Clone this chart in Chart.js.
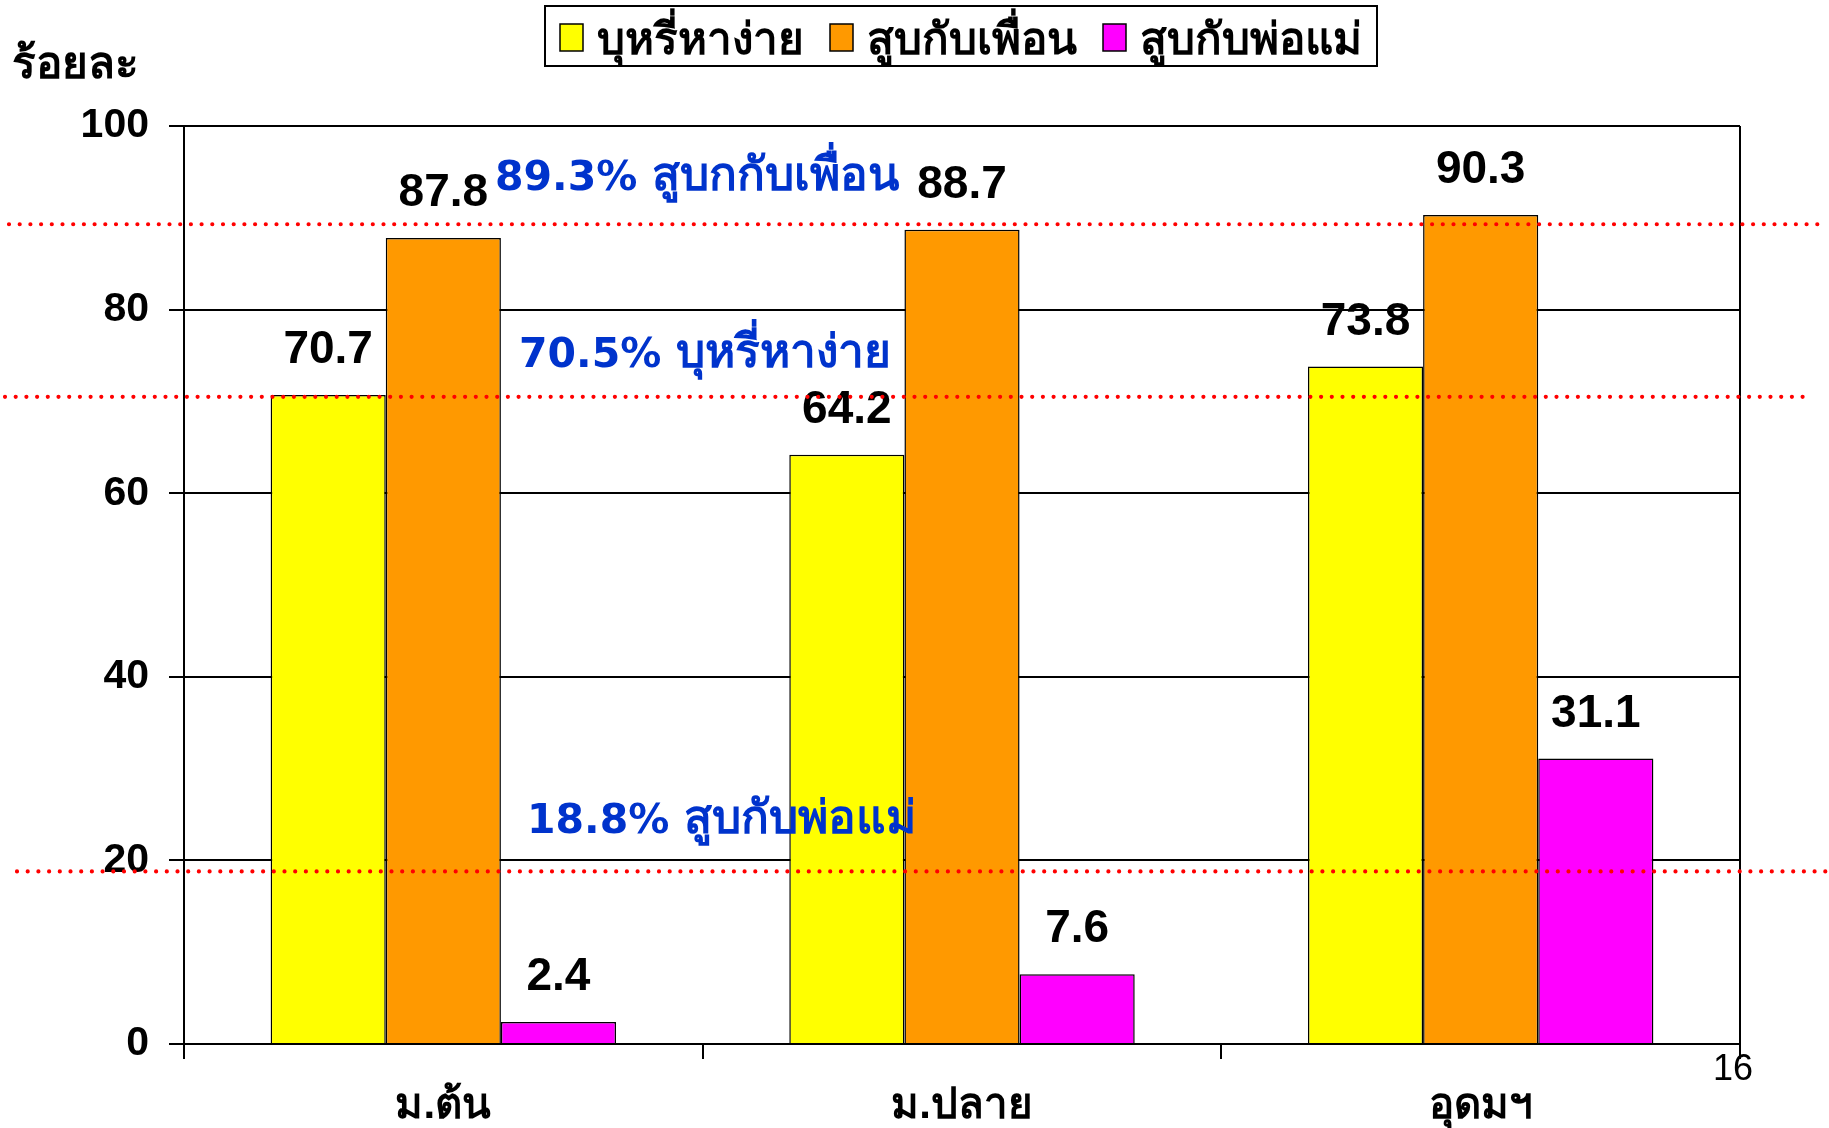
<!DOCTYPE html>
<html>
<head>
<meta charset="utf-8">
<script src="https://cdn.jsdelivr.net/npm/chart.js@4.4.1/dist/chart.umd.min.js"></script>
<style>
  html, body { margin: 0; padding: 0; background: #fff; }
  #wrap { width: 1829px; height: 1128px; position: relative; }
</style>
</head>
<body>
<div id="wrap"><canvas id="c" width="1829" height="1128"></canvas></div>
<script>
// ---- data ----
const categories = ['ม.ต้น', 'ม.ปลาย', 'อุดมฯ'];
const seriesNames = ['บุหรี่หาง่าย', 'สูบกับเพื่อน', 'สูบกับพ่อแม่'];
const smokeEasy = [70.7, 64.2, 73.8];
const withFriends = [87.8, 88.7, 90.3];
const withParents = [2.4, 7.6, 31.1];
const yTicks = [0, 20, 40, 60, 80, 100];
const refValues = [89.3, 70.5, 18.8];
const refNames = ['สูบกกับเพื่อน', 'บุหรี่หาง่าย', 'สูบกับพ่อแม่'];
const yAxisTitle = 'ร้อยละ';
const pageNumber = '16';

const colors = ['#FFFF00', '#FF9900', '#FF00FF'];
const FONT = '"Liberation Sans", Arial, sans-serif';
const BLUEFONT = '"DejaVu Sans", Verdana, sans-serif';

// layout targets
const PLOT_LEFT = 184, PLOT_RIGHT = 1740, PLOT_TOP = 126, PLOT_BOTTOM = 1044;
const W = 1829, H = 1128;

const refLayout = [
  {x: 495, dy: 34, x0: 9, x1: 1822},
  {x: 519, dy: 30, x0: 5, x1: 1810},
  {x: 527, dy: 38, x0: 17, x1: 1826}
];

const extras = {
  id: 'extras',
  afterDatasetsDraw(chart) {
    const ctx = chart.ctx;
    ctx.save();
    ctx.fillStyle = '#000';
    ctx.font = 'bold 46px ' + FONT;
    ctx.textAlign = 'center';
    ctx.textBaseline = 'alphabetic';
    chart.data.datasets.forEach((ds, i) => {
      const meta = chart.getDatasetMeta(i);
      meta.data.forEach((bar, j) => {
        ctx.fillText(ds.data[j].toFixed(1), bar.x, bar.y - 32);
      });
    });
    ctx.restore();
  },
  afterDraw(chart) {
    const ctx = chart.ctx;
    const ys = chart.scales.y;
    const area = chart.chartArea;
    ctx.save();
    // right border
    ctx.strokeStyle = '#000';
    ctx.lineWidth = 2;
    ctx.beginPath();
    ctx.moveTo(area.right, area.top);
    ctx.lineTo(area.right, area.bottom + 15);
    ctx.stroke();

    // reference dotted lines + blue text
    refValues.forEach((v, i) => {
      const y = ys.getPixelForValue(v);
      const L = refLayout[i];
      ctx.strokeStyle = '#FF0000';
      ctx.lineWidth = 4.2;
      ctx.lineCap = 'round';
      ctx.setLineDash([0, 10.7]);
      ctx.beginPath();
      ctx.moveTo(L.x0, y);
      ctx.lineTo(L.x1, y);
      ctx.stroke();
      ctx.setLineDash([]);
      ctx.fillStyle = '#0033CC';
      ctx.textAlign = 'left';
      ctx.textBaseline = 'alphabetic';
      ctx.font = 'bold 41px ' + BLUEFONT;
      const numTxt = v.toFixed(1) + '% ';
      ctx.fillText(numTxt, L.x, y - L.dy);
      const nw = ctx.measureText(numTxt).width;
      ctx.font = 'bold 46px ' + BLUEFONT;
      ctx.fillText(refNames[i], L.x + nw, y - L.dy);
    });

    // y axis title
    ctx.fillStyle = '#000';
    ctx.font = 'bold 44px ' + FONT;
    ctx.textAlign = 'left';
    ctx.textBaseline = 'alphabetic';
    ctx.fillText(yAxisTitle, 12, 78);

    // page number
    ctx.font = '36px ' + FONT;
    ctx.textAlign = 'center';
    ctx.fillText(pageNumber, 1733, 1080);

    // legend
    ctx.font = 'bold 44px ' + FONT;
    const sw = 23, sh = 27, gapST = 14, gapItem = 26, padX = 15;
    const widths = seriesNames.map(n => ctx.measureText(n).width);
    let total = padX * 2;
    widths.forEach((w, i) => { total += sw + gapST + w + (i < widths.length - 1 ? gapItem : 0); });
    const cx = 961;
    const bx = cx - total / 2, by = 6, bh = 60;
    ctx.strokeStyle = '#000';
    ctx.lineWidth = 2;
    ctx.strokeRect(bx, by, total, bh);
    let x = bx + padX;
    seriesNames.forEach((n, i) => {
      ctx.fillStyle = colors[i];
      ctx.fillRect(x, 24, sw, sh);
      ctx.strokeStyle = '#000';
      ctx.lineWidth = 1.5;
      ctx.strokeRect(x, 24, sw, sh);
      x += sw + gapST;
      ctx.fillStyle = '#000';
      ctx.textAlign = 'left';
      ctx.fillText(n, x, 54);
      x += widths[i] + gapItem;
    });
    ctx.restore();
  }
};

new Chart(document.getElementById('c'), {
  type: 'bar',
  data: {
    labels: categories,
    datasets: [
      {label: seriesNames[0], data: smokeEasy, backgroundColor: colors[0]},
      {label: seriesNames[1], data: withFriends, backgroundColor: colors[1]},
      {label: seriesNames[2], data: withParents, backgroundColor: colors[2]}
    ].map(d => Object.assign(d, {borderColor: '#000', borderWidth: 1.5, borderSkipped: 'bottom',
      categoryPercentage: 0.666, barPercentage: 1.0}))
  },
  options: {
    responsive: false,
    animation: false,
    devicePixelRatio: 1,
    layout: {padding: {left: 0, right: W - PLOT_RIGHT, top: PLOT_TOP, bottom: 0}},
    plugins: {legend: {display: false}, tooltip: {enabled: false}, title: {display: false}},
    scales: {
      x: {
        grid: {display: true, drawOnChartArea: false, drawTicks: true, tickLength: 15, color: '#000', lineWidth: 2, offset: true},
        border: {display: true, color: '#000', width: 2},
        ticks: {color: '#000', font: {family: FONT, size: 42, weight: 'bold'}, padding: 22},
        afterFit(s) { s.height = H - PLOT_BOTTOM; }
      },
      y: {
        min: 0, max: 100,
        afterBuildTicks(s) { s.ticks = yTicks.map(v => ({value: v})); },
        grid: {color: '#000', lineWidth: 2, tickLength: 15, drawTicks: true},
        border: {display: true, color: '#000', width: 2},
        ticks: {color: '#000', font: {family: FONT, size: 41, weight: 'bold'}, padding: 20},
        afterFit(s) { s.width = PLOT_LEFT; }
      }
    }
  },
  plugins: [extras]
});
</script>
</body>
</html>
